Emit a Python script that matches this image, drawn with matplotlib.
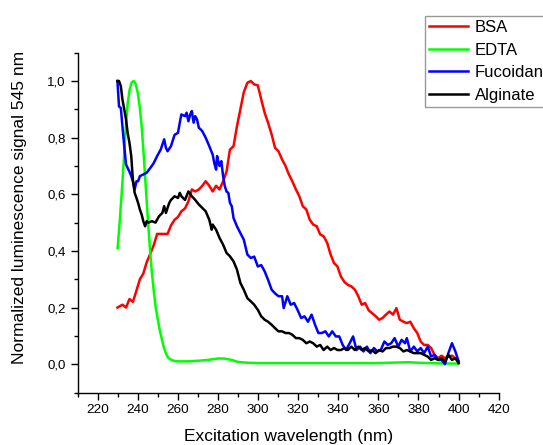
import numpy as np
import matplotlib
matplotlib.use("Agg")
import matplotlib.pyplot as plt
from matplotlib.ticker import MultipleLocator, FuncFormatter

plt.rcParams["font.family"] = ["Liberation Sans", "DejaVu Sans"]

# BSA (red)
bsa_x = [229.9, 232.4, 234.2, 235.9, 237.6, 239.4, 241.1, 242.8, 244.5, 246.3,
         248.0, 249.7, 251.5, 253.2, 254.9, 256.6, 258.4, 260.1, 261.8, 263.6,
         265.3, 267.0, 268.7, 270.5, 272.2, 273.9, 275.7, 277.4, 279.1, 280.8,
         282.6, 284.3, 286.0, 287.8, 289.5, 291.2, 292.9, 294.7, 296.4, 298.1,
         299.9, 301.6, 303.3, 305.0, 306.8, 308.5, 310.2, 312.0, 313.7, 315.4,
         317.1, 318.9, 320.6, 322.3, 324.1, 325.8, 327.5, 329.3, 331.0, 332.7,
         334.5, 336.2, 337.9, 339.6, 341.3, 343.1, 344.8, 346.5, 348.3, 350.0,
         351.7, 353.4, 355.2, 356.9, 358.6, 360.4, 362.1, 363.8, 365.5, 367.3,
         369.0, 370.7, 372.5, 374.2, 375.9, 377.7, 379.4, 381.1, 382.8, 384.6,
         386.3, 388.0, 389.8, 391.5, 393.2, 394.9, 396.7, 398.4, 400.0]
bsa_y = [0.20, 0.21, 0.20, 0.23, 0.22, 0.26, 0.30, 0.32, 0.36, 0.39,
         0.42, 0.46, 0.46, 0.46, 0.46, 0.49, 0.51, 0.52, 0.54, 0.55,
         0.575, 0.617, 0.61, 0.617, 0.63, 0.646, 0.63, 0.61, 0.63, 0.617,
         0.646, 0.68, 0.758, 0.77, 0.84, 0.90, 0.96, 0.994, 1.0, 0.988,
         0.985, 0.935, 0.888, 0.853, 0.811, 0.764, 0.752, 0.723, 0.70, 0.67,
         0.646, 0.617, 0.593, 0.558, 0.546, 0.51, 0.493, 0.487, 0.458, 0.452,
         0.428, 0.387, 0.357, 0.345, 0.31, 0.29, 0.28, 0.275, 0.263, 0.24,
         0.21, 0.216, 0.19, 0.18, 0.17, 0.157, 0.163, 0.175, 0.186, 0.175,
         0.198, 0.157, 0.15, 0.145, 0.15, 0.127, 0.11, 0.08, 0.068, 0.068,
         0.057, 0.033, 0.021, 0.03, 0.021, 0.027, 0.03, 0.021, 0.01]

# EDTA (green)
edta_x = [230, 231, 232, 233, 234, 235, 236, 237, 238, 239, 240, 241, 242, 243,
          244, 245, 246, 247, 248, 249, 250, 251, 252, 253, 254, 255, 256, 258,
          260, 265, 270, 275, 280, 283, 287, 290, 295, 300, 320, 340, 360, 370,
          375, 380, 390, 400]
edta_y = [0.41, 0.50, 0.60, 0.71, 0.83, 0.92, 0.97, 0.995, 1.0, 0.99, 0.96, 0.91,
          0.84, 0.74, 0.63, 0.52, 0.42, 0.33, 0.26, 0.20, 0.16, 0.12, 0.09, 0.06,
          0.04, 0.025, 0.018, 0.012, 0.01, 0.01, 0.012, 0.015, 0.02, 0.02, 0.015,
          0.008, 0.005, 0.004, 0.004, 0.004, 0.004, 0.006, 0.007, 0.005, 0.003, 0.002]

# Fucoidan (blue)
fuc_x = [229.9, 230.7, 231.6, 232.4, 233.3, 234.2, 235.0, 235.9, 236.8, 237.6,
         238.5, 239.4, 240.2, 241.1, 242.8, 244.5, 246.3, 248.0, 249.7, 251.5,
         253.2, 254.1, 254.9, 256.6, 258.4, 260.1, 261.0, 261.8, 263.6, 264.4,
         265.3, 266.2, 267.0, 267.9, 268.7, 269.6, 270.5, 271.3, 272.2, 273.9,
         275.7, 277.4, 278.2, 279.1, 279.6, 280.0, 280.8, 281.7, 282.6, 283.4,
         284.3, 285.2, 286.0, 286.9, 287.8, 289.5, 291.2, 292.9, 294.7, 296.4,
         298.1, 299.9, 301.6, 303.3, 305.0, 306.8, 308.5, 310.2, 312.0, 312.8,
         314.6, 316.3, 318.0, 319.7, 321.5, 323.2, 324.9, 326.7, 328.4, 330.1,
         331.8, 333.6, 335.3, 337.0, 338.8, 340.5, 342.2, 343.9, 345.7, 347.4,
         349.1, 350.9, 352.6, 354.3, 356.0, 357.8, 359.5, 361.2, 363.0, 364.7,
         366.4, 368.1, 369.9, 371.6, 373.3, 374.2, 375.9, 377.7, 379.4, 381.1,
         382.8, 384.6, 386.3, 388.0, 389.8, 391.5, 393.2, 394.9, 396.7, 398.4, 400.0]
fuc_y = [1.0, 0.91, 0.905, 0.84, 0.77, 0.705, 0.693, 0.68, 0.664, 0.646,
         0.617, 0.646, 0.646, 0.664, 0.67, 0.676, 0.693, 0.71, 0.735, 0.758,
         0.794, 0.764, 0.752, 0.77, 0.81, 0.817, 0.853, 0.882, 0.876, 0.888,
         0.858, 0.882, 0.894, 0.853, 0.876, 0.864, 0.835, 0.83, 0.823, 0.80,
         0.77, 0.74, 0.71, 0.687, 0.735, 0.72, 0.70, 0.717, 0.664, 0.63,
         0.61, 0.605, 0.57, 0.558, 0.516, 0.487, 0.463, 0.44, 0.387, 0.375,
         0.38, 0.345, 0.35, 0.328, 0.298, 0.263, 0.25, 0.24, 0.24, 0.198,
         0.24, 0.21, 0.216, 0.192, 0.163, 0.169, 0.15, 0.175, 0.14, 0.11,
         0.11, 0.116, 0.098, 0.116, 0.098, 0.098, 0.068, 0.05, 0.074, 0.098,
         0.05, 0.062, 0.045, 0.062, 0.039, 0.057, 0.045, 0.05, 0.08, 0.068,
         0.074, 0.092, 0.062, 0.086, 0.074, 0.092, 0.045, 0.062, 0.045, 0.057,
         0.039, 0.062, 0.027, 0.033, 0.015, 0.015, 0.0, 0.039, 0.074, 0.045, 0.01]

# Alginate (black)
alg_x = [229.9, 230.7, 231.6, 232.4, 233.3, 234.2, 235.0, 235.9, 236.8, 237.6,
         238.5, 239.4, 240.2, 241.1, 242.0, 242.8, 243.7, 244.5, 245.4, 247.1,
         248.9, 250.6, 252.3, 253.2, 254.1, 254.9, 255.8, 256.6, 258.4, 260.1,
         261.0, 261.8, 263.6, 265.3, 267.0, 268.7, 270.5, 272.2, 273.9, 275.7,
         276.9, 277.4, 279.1, 280.8, 282.6, 284.3, 286.0, 287.8, 289.5, 291.2,
         292.9, 294.7, 296.4, 298.1, 299.9, 301.6, 303.3, 305.0, 306.8, 308.5,
         310.2, 312.0, 313.7, 315.4, 317.1, 318.9, 320.6, 322.3, 324.1, 325.8,
         327.5, 329.3, 331.0, 332.7, 334.5, 336.2, 337.9, 339.6, 341.3, 343.1,
         344.8, 346.5, 348.3, 350.0, 351.7, 353.4, 355.2, 356.9, 358.6, 360.4,
         362.1, 363.8, 365.5, 367.3, 369.0, 370.7, 372.5, 374.2, 375.9, 377.7,
         379.4, 381.1, 382.8, 384.6, 386.3, 388.0, 389.8, 391.5, 393.2, 394.9,
         396.7, 398.4, 400.0]
alg_y = [1.0, 1.0, 0.982, 0.935, 0.90, 0.864, 0.817, 0.782, 0.735, 0.652,
         0.605, 0.587, 0.57, 0.546, 0.528, 0.505, 0.487, 0.505, 0.50, 0.505,
         0.50, 0.522, 0.534, 0.558, 0.534, 0.552, 0.57, 0.58, 0.593, 0.587,
         0.605, 0.593, 0.58, 0.61, 0.593, 0.58, 0.564, 0.552, 0.54, 0.51,
         0.475, 0.493, 0.475, 0.446, 0.422, 0.393, 0.381, 0.363, 0.334, 0.287,
         0.263, 0.233, 0.222, 0.21, 0.192, 0.169, 0.157, 0.15, 0.139, 0.127,
         0.116, 0.116, 0.11, 0.11, 0.104, 0.092, 0.092, 0.086, 0.074, 0.08,
         0.074, 0.062, 0.068, 0.05, 0.062, 0.05, 0.057, 0.05, 0.05, 0.057,
         0.05, 0.062, 0.05, 0.062, 0.05, 0.057, 0.045, 0.05, 0.039, 0.05,
         0.045, 0.057, 0.057, 0.062, 0.062, 0.057, 0.045, 0.05, 0.045, 0.039,
         0.039, 0.039, 0.033, 0.027, 0.015, 0.021, 0.015, 0.021, 0.01, 0.033,
         0.015, 0.021, 0.004]

fig = plt.figure(figsize=(5.43, 4.45), dpi=100)
# axes box measured in pixels from the reference: x 77.5..498.7, y 52.7..392.5
ax = fig.add_axes([77.5 / 543, 52.5 / 445, 421.2 / 543, 339.8 / 445])

lw = 1.8
ax.plot(bsa_x, bsa_y, color="#ff0000", linewidth=lw, label="BSA")
ax.plot(edta_x, edta_y, color="#00ff00", linewidth=lw, label="EDTA")
ax.plot(fuc_x, fuc_y, color="#0000ff", linewidth=lw, label="Fucoidan")
ax.plot(alg_x, alg_y, color="#000000", linewidth=lw, label="Alginate")

ax.set_xlim(210, 420)
ax.set_ylim(-0.1, 1.1)
ax.xaxis.set_major_locator(MultipleLocator(20))
ax.xaxis.set_minor_locator(MultipleLocator(10))
ax.yaxis.set_major_locator(MultipleLocator(0.2))
ax.yaxis.set_minor_locator(MultipleLocator(0.1))
ax.yaxis.set_major_formatter(FuncFormatter(lambda v, p: f"{v:.1f}".replace(".", ",")))

ax.spines["top"].set_visible(False)
ax.spines["right"].set_visible(False)
for s in ["left", "bottom"]:
    ax.spines[s].set_linewidth(1.0)
ax.tick_params(which="major", direction="out", length=5, width=1.0)
ax.tick_params(which="minor", direction="out", length=3, width=1.0)
ax.tick_params(axis="x", which="major", labelsize=9.7, pad=3)
ax.tick_params(axis="y", which="major", labelsize=9.5, pad=3.5)

ax.set_xlabel("Excitation wavelength (nm)", fontsize=12.5, va="top")
ax.set_ylabel("Normalized luminescence signal 545 nm", fontsize=12.5)
ax.xaxis.set_label_coords(0.5, -0.106)
ax.yaxis.set_label_coords(-0.12, 0.546)

leg = fig.legend(loc="upper left", bbox_to_anchor=(425.2 / 543, 1 - 15.7 / 445),
                 bbox_transform=fig.transFigure, fontsize=12, frameon=True,
                 fancybox=False, edgecolor="#808080", borderpad=0.25,
                 labelspacing=0.46, handlelength=2.3, handletextpad=0.42,
                 borderaxespad=0)
leg.get_frame().set_linewidth(1.0)

fig.savefig("out.png", dpi=100)
